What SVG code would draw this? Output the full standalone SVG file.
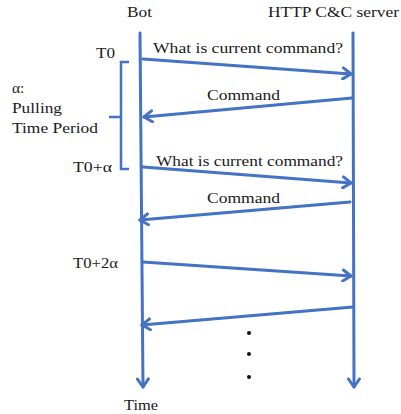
<svg xmlns="http://www.w3.org/2000/svg" width="401" height="414" viewBox="0 0 401 414">
  <style>
    .lbl { font-family: "Liberation Serif", "Times New Roman", serif; font-size: 15.5px; fill: #1a1a1a; }
    .line { stroke: #4472C4; stroke-width: 3; fill: none; stroke-linecap: round; }
    .brk { stroke: #4472C4; stroke-width: 2.5; fill: none; }
  </style>
  <defs>
    <marker id="head" viewBox="-10 -7 12 14" markerWidth="12" markerHeight="14" refX="0" refY="0" orient="auto" markerUnits="userSpaceOnUse">
      <path d="M-8,-5.5 L0,0 L-8,5.5" fill="none" stroke="#4472C4" stroke-width="3" stroke-linecap="round" stroke-linejoin="round"/>
    </marker>
  </defs>
  <rect width="401" height="414" fill="#ffffff"/>

  <!-- participants -->
  <g id="bot">
    <text class="lbl" x="127" y="17" textLength="25" lengthAdjust="spacingAndGlyphs">Bot</text>
  </g>
  <g id="server">
    <text class="lbl" x="268" y="17" textLength="131" lengthAdjust="spacingAndGlyphs">HTTP C&amp;C server</text>
  </g>

  <!-- time labels -->
  <g id="t0">
    <text class="lbl" x="96" y="58" textLength="19" lengthAdjust="spacingAndGlyphs">T0</text>
  </g>
  <g id="t0-alpha">
    <text class="lbl" x="73" y="172" textLength="39" lengthAdjust="spacingAndGlyphs">T0+α</text>
  </g>
  <g id="t0-2alpha">
    <text class="lbl" x="73" y="268" textLength="45" lengthAdjust="spacingAndGlyphs">T0+2α</text>
  </g>
  <g id="time">
    <text class="lbl" x="124" y="410" textLength="34" lengthAdjust="spacingAndGlyphs">Time</text>
  </g>

  <!-- polling period bracket -->
  <g id="period">
    <path class="brk" d="M129,62 H121 V169 H129 M121,117 H109"/>
    <text class="lbl" x="12" y="93">α:</text>
    <text class="lbl" x="12" y="113" textLength="50" lengthAdjust="spacingAndGlyphs">Pulling</text>
    <text class="lbl" x="12" y="133" textLength="86" lengthAdjust="spacingAndGlyphs">Time Period</text>
  </g>

  <!-- message labels -->
  <g id="msg-labels">
    <text class="lbl" x="153" y="53" textLength="190" lengthAdjust="spacingAndGlyphs">What is current command?</text>
    <text class="lbl" x="207" y="100" textLength="73" lengthAdjust="spacingAndGlyphs">Command</text>
    <text class="lbl" x="156" y="166" textLength="187" lengthAdjust="spacingAndGlyphs">What is current command?</text>
    <text class="lbl" x="207" y="203" textLength="73" lengthAdjust="spacingAndGlyphs">Command</text>
  </g>

  <!-- connectors -->
  <g id="connectors">
    <line class="line" x1="140" y1="33" x2="143" y2="387" marker-end="url(#head)"/>
    <line class="line" x1="353" y1="33" x2="354" y2="387" marker-end="url(#head)"/>
    <line class="line" x1="143" y1="59" x2="351" y2="74" marker-end="url(#head)"/>
    <line class="line" x1="352" y1="98" x2="144" y2="117" marker-end="url(#head)"/>
    <line class="line" x1="143" y1="167" x2="351" y2="183" marker-end="url(#head)"/>
    <line class="line" x1="350" y1="202" x2="140" y2="220" marker-end="url(#head)"/>
    <line class="line" x1="143" y1="262" x2="351" y2="276" marker-end="url(#head)"/>
    <line class="line" x1="353" y1="307" x2="142" y2="325" marker-end="url(#head)"/>
  </g>

  <!-- continuation dots -->
  <g id="dots" fill="#111">
    <circle cx="249" cy="333" r="2"/>
    <circle cx="249" cy="354" r="2"/>
    <circle cx="249" cy="377" r="2"/>
  </g>
</svg>
